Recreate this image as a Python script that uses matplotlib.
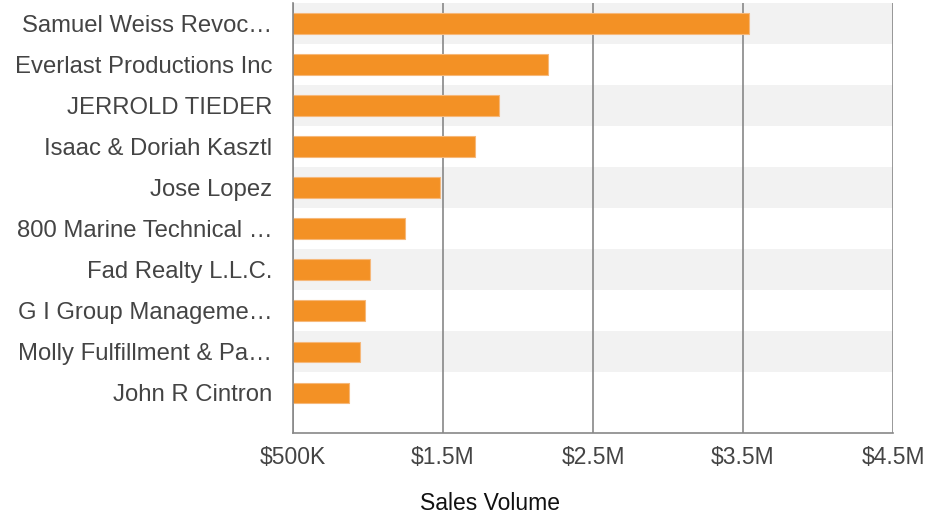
import matplotlib
matplotlib.use("Agg")
import matplotlib.pyplot as plt
from matplotlib.ticker import FixedLocator

plt.rcParams['font.family'] = ['Liberation Sans', 'DejaVu Sans']

names = ["Samuel Weiss Revoc…", "Everlast Productions Inc", "JERROLD TIEDER",
         "Isaac & Doriah Kasztl", "Jose Lopez", "800 Marine Technical …",
         "Fad Realty L.L.C.", "G I Group Manageme…", "Molly Fulfillment & Pa…",
         "John R Cintron"]
sales = [3540000, 2200000, 1873000, 1710000, 1482000, 1249000,
         1013000, 980000, 947000, 873000]
xticks = [500000, 1500000, 2500000, 3500000, 4500000]
xticklabels = ["$500K", "$1.5M", "$2.5M", "$3.5M", "$4.5M"]

fig = plt.figure(figsize=(9.28, 5.18), dpi=100)
ax = fig.add_axes([293/928, 1-433/518, 600/928, 430/518])

ypos = list(range(len(names)))
for i in ypos:
    if i % 2 == 0:
        ax.axhspan(i-0.5, i+0.5, color='#f2f2f2', zorder=0, lw=0)

ax.barh(ypos, sales, height=0.5, color='#f39125', edgecolor='#f6b87a', linewidth=0.8, zorder=3)

ax.set_xlim(500000, 4500000)
ax.set_ylim(9.98, -0.5)
ax.xaxis.set_major_locator(FixedLocator(xticks))
ax.set_xticklabels(xticklabels)
ax.set_yticks(ypos)
ax.set_yticklabels(names)
ax.tick_params(axis='both', length=0, colors='#444444')
ax.tick_params(axis='x', pad=9, labelsize=16.5)
ax.tick_params(axis='y', pad=15, labelsize=17.2)

ax.grid(axis='x', color='#888888', linewidth=1.2, zorder=1)
ax.set_axisbelow(True)
for s in ['top', 'right']:
    ax.spines[s].set_visible(False)
for s in ['left', 'bottom']:
    ax.spines[s].set_color('#888888')
    ax.spines[s].set_linewidth(1.2)
    ax.spines[s].set_zorder(4)

fig.text(490/928, 1-503/518, "Sales Volume", ha='center', va='center', fontsize=16.5, color='#111111')

fig.savefig("out.png", dpi=100)
